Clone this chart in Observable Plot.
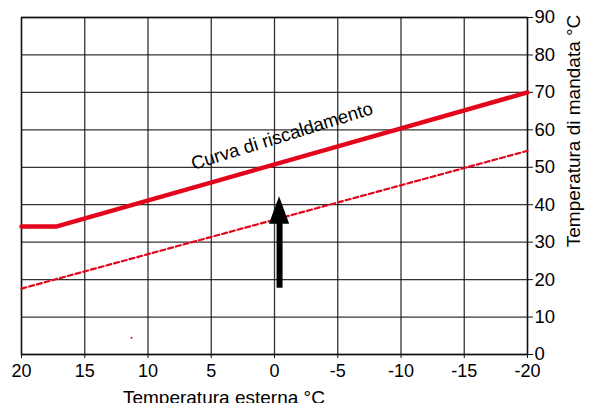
<!DOCTYPE html>
<html>
<head>
<meta charset="utf-8">
<script src="https://cdn.jsdelivr.net/npm/d3@7"></script>
<script src="https://cdn.jsdelivr.net/npm/@observablehq/plot@0.6"></script>
<style>
  html, body { margin: 0; padding: 0; background: #fff; overflow: hidden; }
  svg { font-family: "Liberation Sans", Arial, sans-serif; }
</style>
</head>
<body>
<div id="chart"></div>
<script>
// Heating curve (solid)
const curveX = [20, 17.2, -20];
const curveY = [34.2, 34.2, 70];
// Lower curve (dashed)
const dashedX = [20, -20];
const dashedY = [17.6, 54.4];
// Arrow
const arrowX = [-0.4];
const arrowFrom = [17.7];
const arrowHeadBase = [34.8];
const arrowTip = [42.1];
const arrowHalfWidth = 0.8;
// stray dot
const dotX = [11.3];
const dotY = [4.5];
// ticks
const xTicks = [20, 15, 10, 5, 0, -5, -10, -15, -20];
const yTicks = [0, 10, 20, 30, 40, 50, 60, 70, 80, 90];
const curveLabel = "Curva di riscaldamento";
const xLabel = "Temperatura esterna °C";
const yLabel = "Temperatura di mandata °C";

const red = "#e3051b";
const curve = curveX.map((x, i) => ({x, y: curveY[i]}));
const dashed = dashedX.map((x, i) => ({x, y: dashedY[i]}));
const head = [
  {x: arrowX[0] + arrowHalfWidth, y1: arrowHeadBase[0], y2: arrowHeadBase[0]},
  {x: arrowX[0], y1: arrowHeadBase[0], y2: arrowTip[0]},
  {x: arrowX[0] - arrowHalfWidth, y1: arrowHeadBase[0], y2: arrowHeadBase[0]}
];

const chart = Plot.plot({
  width: 590,
  height: 403,
  marginLeft: 21,
  marginRight: 63,
  marginTop: 17,
  marginBottom: 49,
  style: {fontFamily: "'Liberation Sans', Arial, sans-serif", fontSize: "18px", color: "#000", background: "#fff", overflow: "visible"},
  x: {domain: [20, -20]},
  y: {domain: [0, 90]},
  marks: [
    Plot.gridX(xTicks, {stroke: "#111", strokeOpacity: 0.85, strokeWidth: 1.3}),
    Plot.gridY(yTicks, {stroke: "#111", strokeOpacity: 0.85, strokeWidth: 1.3}),
    Plot.frame({stroke: "#111", strokeWidth: 1.4}),
    Plot.axisX(xTicks, {anchor: "bottom", tickSize: 4, tickPadding: 6, label: null, fontSize: 18, stroke: "#111",
      tickFormat: d => String(d).replace("−", "-")}),
    Plot.axisY(yTicks, {anchor: "right", tickSize: 5, tickPadding: 2, label: null, fontSize: 18.5, stroke: "#111"}),
    Plot.line(dashed, {x: "x", y: "y", stroke: red, strokeWidth: 2.2, strokeDasharray: "5,3"}),
    Plot.line(curve, {x: "x", y: "y", stroke: red, strokeWidth: 4.4}),
    Plot.ruleX(arrowX, {x: d => d, y1: arrowFrom[0], y2: arrowHeadBase[0] + 0.5, stroke: "#000", strokeWidth: 6}),
    Plot.areaY(head, {x: "x", y1: "y1", y2: "y2", fill: "#000", curve: "linear"}),
    Plot.dot(dotX.map((x, i) => ({x, y: dotY[i]})), {x: "x", y: "y", r: 1, fill: red, stroke: null}),
    Plot.text([curveLabel], {x: -0.6, y: 58.3, text: d => d, rotate: -17.3, fontSize: 18.5, fill: "#000"}),
    Plot.text([xLabel], {x: 4, frameAnchor: "bottom", lineAnchor: "top", dy: 36, text: d => d, fontSize: 19, fill: "#000"}),
    Plot.text([yLabel], {y: 59.7, frameAnchor: "right", textAnchor: "middle", dx: 46, text: d => d, rotate: -90, fontSize: 19, fill: "#000"})
  ]
});
document.getElementById("chart").appendChild(chart);
</script>
</body>
</html>
